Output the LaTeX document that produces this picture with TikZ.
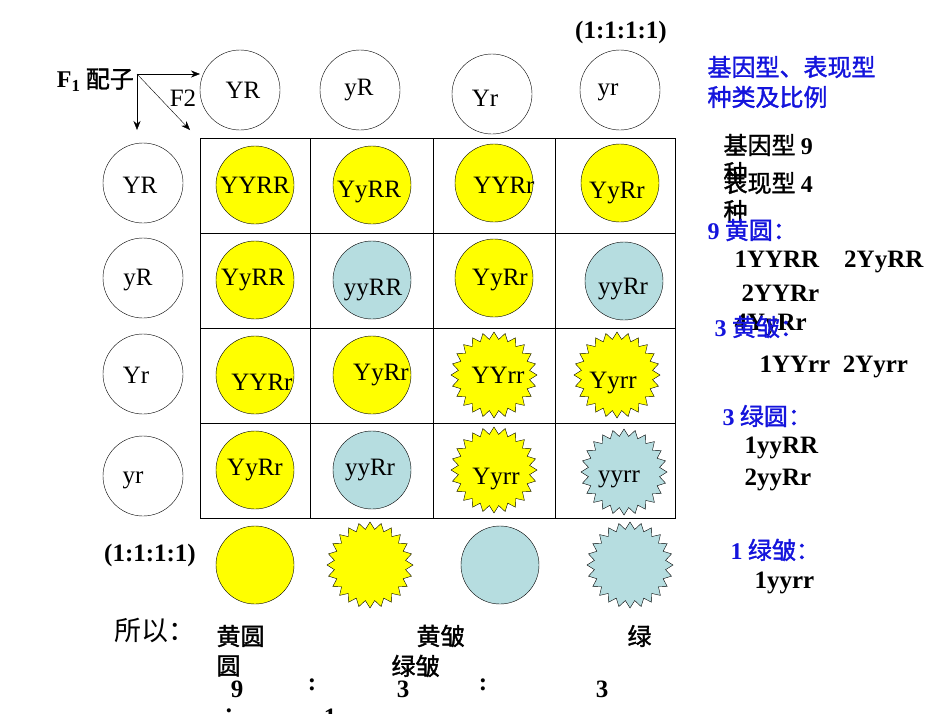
\documentclass[tikz,border=0pt]{standalone}
\usepackage{fontspec}
\setmainfont{Liberation Serif}
\newfontfamily\cjk{Noto Sans CJK SC}
\newfontfamily\cjkb{Noto Sans CJK SC}[FakeBold=1.5]
\usetikzlibrary{shapes.geometric,arrows.meta}
\definecolor{yel}{RGB}{255,255,0}
\definecolor{grn}{RGB}{182,221,224}
\definecolor{blu}{RGB}{20,20,220}
\begin{document}
\begin{tikzpicture}[x=1pt,y=-1pt,
 gam/.style={circle,draw,minimum size=80pt,inner sep=0pt},
 yc/.style={circle,draw,fill=yel,minimum size=78pt,inner sep=0pt},
 gc/.style={circle,draw,fill=grn,minimum size=78pt,inner sep=0pt},
 ys/.style={star,star points=24,star point ratio=1.2,draw,fill=yel,minimum size=86pt,inner sep=0pt},
 gs/.style={star,star points=24,star point ratio=1.2,draw,fill=grn,minimum size=86pt,inner sep=0pt},
 lab/.style={font=\fontsize{25}{28}\selectfont},
 bt/.style={font=\fontsize{24}{28}\selectfont\cjkb,anchor=west},
 bb/.style={bt,text=blu},
 tx/.style={font=\fontsize{25}{28}\selectfont\bfseries},
 >={Stealth[length=9pt,width=7pt]}]
\useasboundingbox (0,0) rectangle (950,713);
% grid
\draw (200,138) rectangle (675,518);
\foreach \x in {310,433,555} \draw (\x,138) -- (\x,518);
\foreach \y in {233,328,423} \draw (200,\y) -- (675,\y);
% header gametes
\node[gam] (g1) at (240,90) {};
\node[gam] (g2) at (360,90) {};
\node[gam] (g3) at (492,94) {};
\node[gam] (g4) at (620,90) {};
\node[lab] at (243,90) {YR};
\node[lab] at (359,90) {yR};
\node[lab] at (485,98) {Yr};
\node[lab] at (608,92) {yr};
\node[gam] (h1) at (143,183) {};
\node[gam] (h2) at (143,278) {};
\node[gam] (h3) at (143,374) {};
\node[gam] (h4) at (143,476) {};
\node[lab] at (140,185) {YR};
\node[lab] at (138,280) {yR};
\node[lab] at (136,375) {Yr};
\node[lab] at (133,480) {yr};
% cells
\node[yc] (c11) at (255,185) {};
\node[yc] (c12) at (372,185) {};
\node[yc] (c13) at (494,183) {};
\node[yc] (c14) at (620,183) {};
\node[yc] (c21) at (255,280) {};
\node[gc] (c22) at (372,280) {};
\node[yc] (c23) at (494,278) {};
\node[gc] (c24) at (624,281) {};
\node[yc] (c31) at (255,375) {};
\node[yc] (c32) at (372,375) {};
\node[ys] (c33) at (494,375) {};
\node[ys] (c34) at (617,375) {};
\node[yc] (c41) at (255,470) {};
\node[gc] (c42) at (372,470) {};
\node[ys] (c43) at (494,470) {};
\node[gs] (c44) at (624,472) {};
\node[lab] at (255,185) {YYRR};
\node[lab] at (369,192) {YyRR};
\node[lab] at (504,185) {YYRr};
\node[lab] at (617,193) {YyRr};
\node[lab] at (253,280) {YyRR};
\node[lab] at (373,290) {yyRR};
\node[lab] at (500,280) {YyRr};
\node[lab] at (623,289) {yyRr};
\node[lab] at (262,382) {YYRr};
\node[lab] at (381,375) {YyRr};
\node[lab] at (498,375) {YYrr};
\node[lab] at (613,383) {Yyrr};
\node[lab] at (255,470) {YyRr};
\node[lab] at (370,470) {yyRr};
\node[lab] at (496,479) {Yyrr};
\node[lab] at (619,479) {yyrr};
% bottom phenotypes
\node[yc] (p1) at (255,565) {};
\node[ys] (p2) at (370,565) {};
\node[gc] (p3) at (500,565) {};
\node[gs] (p4) at (630,565) {};
% F1 arrows
\node[font=\fontsize{24}{26}\selectfont\cjkb,anchor=east,inner sep=1pt] (f1) at (135,80) {{\rmfamily\bfseries F\textsubscript{1}} 配子};
\coordinate (o) at (137,74);
\coordinate (ea) at (200,74);
\coordinate (sa) at (137,130);
\coordinate (da) at (190,130);
\draw[->] (o) -- (ea);
\draw[->] (o) -- (sa);
\draw[->] (o) -- (da);
\node[lab] at (183,98) {F2};
% ratios
\node[tx] at (621,32) {(1:1:1:1)};
\node[tx] at (150,555) {(1:1:1:1)};
% right text
\node[bb] at (704,67) {基因型、表现型};
\node[bb] at (704,97) {种类及比例};
\node[bt] at (720,145) {基因型 {\rmfamily\bfseries 9}};
\node[bt] at (720,173) {种};
\node[bt] at (720,183) {表现型 {\rmfamily\bfseries 4}};
\node[bt] at (720,211) {种};
\node[bb] at (704,230) {{\rmfamily\bfseries 9} 黄圆：};
\node[tx,anchor=west] at (731,262) {1YYRR\quad 2YyRR};
\node[tx,anchor=west] at (738,293) {2YYRr};
\node[tx,anchor=west] at (731,325) {4YyRr};
\node[bb] at (711,327) {{\rmfamily\bfseries 3} 黄皱：};
\node[tx,anchor=west] at (756,367) {1YYrr\enspace 2Yyrr};
\node[bb] at (719,416) {{\rmfamily\bfseries 3} 绿圆：};
\node[tx,anchor=west] at (741,448) {1yyRR};
\node[tx,anchor=west] at (741,480) {2yyRr};
\node[bb] at (727,550) {{\rmfamily\bfseries 1} 绿皱：};
\node[tx,anchor=west] at (751,583) {1yyrr};
% bottom
\node[font=\fontsize{27}{30}\selectfont\cjk] at (155,630) {所以：};
\node[bt] at (213,636) {黄圆};
\node[bt] at (213,666) {圆};
\node[bt] at (413,636) {黄皱};
\node[bt] at (388,666) {绿皱};
\node[bt] at (624,636) {绿};
\node[tx] at (237,689) {9};
\node[tx] at (312,685) {:};
\node[tx] at (403,689) {3};
\node[tx] at (483,685) {:};
\node[tx] at (602,689) {3};
\node[tx] at (229,715) {:};
\node[tx] at (330,717) {1};
\end{tikzpicture}
\end{document}
